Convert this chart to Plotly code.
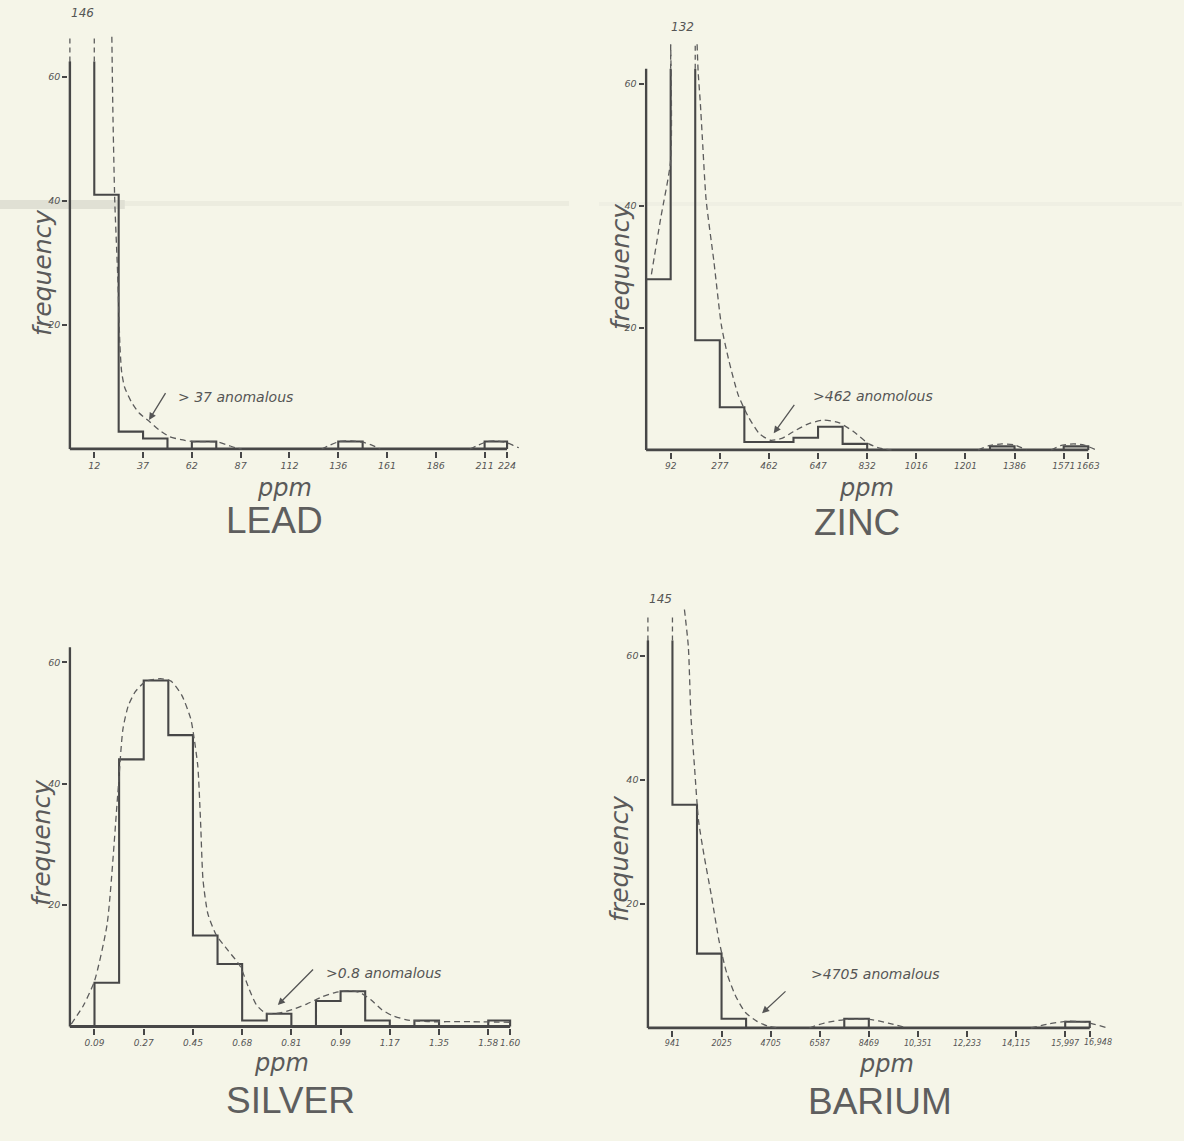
import plotly.graph_objects as go

W, H = 1184, 1141
BG = "#f5f5e8"
INK = "#474747"
PEN = "#5c5c5c"
HAND = "DejaVu Sans"
PRINT = "Liberation Sans"

# ---------------- data ----------------
lead_edges = [0, 12.5, 25, 37.5, 50, 62.5, 75, 87.5, 100, 112.5, 125, 137.5, 150,
              162.5, 175, 187.5, 200, 212.5, 224]
lead_freq = [146, 41, 2.8, 1.7, 0, 1.2, 0, 0, 0, 0, 0, 1.2, 0, 0, 0, 0, 0, 1.2]
lead_tickvals = [12.5, 37.5, 62.5, 87.5, 112.5, 137.5, 162.5, 187.5, 212.5, 224]
lead_ticktext = ["12", "37", "62", "87", "112", "136", "161", "186", "211", "224"]
lead_curve_x = [21.5, 22, 23, 24.5, 25.6, 26.5, 28, 31.5, 35.5, 40.5, 46, 51, 57, 63, 70,
                76, 81, 85, 88, None,
                129, 133, 138, 144, 150, 155, 159, None,
                205, 209, 214, 219, 224, 227, 230]
lead_curve_y = [66.5, 55, 40, 28, 17, 12.5, 10, 7.6, 5.8, 4.5, 3, 2, 1.5, 1.2, 1.2,
                1.1, 0.6, 0.2, 0, None,
                0, 0.6, 1.2, 1.3, 1.1, 0.6, 0, None,
                0, 0.6, 1.2, 1.3, 1.0, 0.6, 0.2]

zinc_edges = [0, 92.5, 185, 277.5, 370, 462.5, 555, 647.5, 740, 832.5, 925, 1017.5,
              1110, 1202.5, 1295, 1387.5, 1480, 1572.5, 1665]
zinc_freq = [28, 132, 18, 7, 1.3, 1.3, 2, 3.8, 1, 0, 0, 0, 0, 0, 0.6, 0, 0, 0.6]
zinc_tickvals = [92.5, 277.5, 462.5, 647.5, 832.5, 1017.5, 1202.5, 1387.5, 1572.5, 1665]
zinc_ticktext = ["92", "277", "462", "647", "832", "1016", "1201", "1386", "1571", "1663"]
zinc_curve_x = [20, 55, 92.5, 92.5, None,
                192, 196, 204, 212, 226, 255, 284, 312, 347, 383, 426, 468, 511, 554,
                611, 668, 725, 782, 839, 880, 924, None,
                1250, 1290, 1340, 1390, 1432, None,
                1525, 1560, 1610, 1650, 1690]
zinc_curve_y = [28.8, 38, 47.5, 66.5, None,
                66.5, 62, 57, 51, 41, 31, 20.3, 14.6, 9, 5.6, 2.7, 1.6, 1.9, 3,
                4.3, 4.9, 4.5, 3, 1, 0.3, 0, None,
                0, 0.7, 1.0, 0.8, 0, None,
                0, 0.7, 1.0, 0.8, 0.1]

silver_edges = [0, 0.09, 0.18, 0.27, 0.36, 0.45, 0.54, 0.63, 0.72, 0.81, 0.90, 0.99,
                1.08, 1.17, 1.26, 1.35, 1.44, 1.53, 1.61]
silver_freq = [0, 7.2, 44, 57, 48, 15, 10.3, 1, 2.1, 0, 4.2, 5.8, 1, 0, 1, 0, 0, 1]
silver_tickvals = [0.09, 0.27, 0.45, 0.63, 0.81, 0.99, 1.17, 1.35, 1.53, 1.61]
silver_ticktext = ["0.09", "0.27", "0.45", "0.68", "0.81", "0.99", "1.17", "1.35", "1.58", "1.60"]
silver_curve_x = [0.005, 0.05, 0.09, 0.136, 0.175, 0.194, 0.214, 0.240, 0.279, 0.331,
                  0.370, 0.409, 0.442, 0.455, 0.468, 0.478, 0.487, 0.505, 0.535, 0.579,
                  0.622, 0.657, 0.683, 0.716, 0.762, 0.814, 0.866, 0.918, 0.970, 1.029,
                  1.061, 1.101, 1.140, 1.179, 1.231, 1.309, 1.440, 1.609]
silver_curve_y = [0.4, 3.5, 7.5, 16.8, 38.2, 49, 52.9, 55.2, 56.9, 57.3,
                  56.9, 54.6, 50.7, 47.3, 42.8, 33.7, 24.1, 18.5, 15.1, 12.5,
                  10, 6, 3.5, 2.2, 2.2, 2.8, 3.7, 4.8, 5.6, 5.9,
                  5.6, 4.4, 2.8, 1.8, 1.1, 0.8, 0.8, 0.7]

barium_edges = [0, 941, 1882, 2823, 3764, 4705, 5646, 6587, 7528, 8469, 9410, 10351,
                11292, 12233, 13174, 14115, 15056, 15997, 16938]
barium_freq = [145, 36, 12, 1.5, 0, 0, 0, 0, 1.5, 0, 0, 0, 0, 0, 0, 0, 0, 1]
barium_tickvals = [941, 2823, 4705, 6587, 8469, 10351, 12233, 14115, 15997, 16938]
barium_ticktext = ["941", "2025", "4705", "6587", "8469", "10,351", "12,233", "14,115",
                   "15,997", "16,948"]
barium_curve_x = [1400, 1550, 1650, 1790, 1940, 2150, 2440, 2730, 3020, 3380, 3740, 4170,
                  4600, 5030, None,
                  6190, 6760, 7630, 8490, 9210, 9930, None,
                  14680, 15400, 16120, 16840, 17550]
barium_curve_y = [67.5, 61.5, 50.3, 41.9, 33.5, 27.9, 21.2, 14, 8.9, 5, 2.5, 1.1,
                  0.3, 0, None,
                  0, 0.8, 1.4, 1.4, 0.8, 0, None,
                  0, 0.7, 1.1, 0.9, 0.1]

freq_tickvals = [20, 40, 60]
freq_ticktext = ["20", "40", "60"]

panels = [
    dict(title="LEAD", edges=lead_edges, freq=lead_freq, tv=lead_tickvals, tt=lead_ticktext,
         cx=lead_curve_x, cy=lead_curve_y, note="> 37 anomalous"),
    dict(title="ZINC", edges=zinc_edges, freq=zinc_freq, tv=zinc_tickvals, tt=zinc_ticktext,
         cx=zinc_curve_x, cy=zinc_curve_y, note=">462 anomolous"),
    dict(title="SILVER", edges=silver_edges, freq=silver_freq, tv=silver_tickvals,
         tt=silver_ticktext, cx=silver_curve_x, cy=silver_curve_y, note=">0.8 anomalous"),
    dict(title="BARIUM", edges=barium_edges, freq=barium_freq, tv=barium_tickvals,
         tt=barium_ticktext, cx=barium_curve_x, cy=barium_curve_y, note=">4705 anomalous"),
]

# ---------------- geometry (pixels) ----------------
geom = [
    dict(x0=70, sx=1.955, xr=(-0.8, 232), y0=449, sy=6.2, yr=(-0.25, 72),
         title=(275, 520), ppm=(285, 488), fq=(42, 272), note=(176, 397),
         tail=(166.7, 391.7), head=(149.3, 420), big_y=70.3, tfs=9.5, last_shift=0),
    dict(x0=647.2, sx=0.266, xr=(-6, 1700), y0=450, sy=6.1, yr=(-0.25, 72),
         title=(858, 522), ppm=(868, 488), fq=(621, 266), note=(812, 396),
         tail=(796.7, 403.3), head=(775, 433.3), big_y=69.3, tfs=9, last_shift=0),
    dict(x0=70, sx=273.9, xr=(-0.006, 1.645), y0=1026.5, sy=6.07, yr=(-0.25, 66),
         title=(291, 1100), ppm=(282, 1063), fq=(41, 842), note=(325, 973),
         tail=(315, 968), head=(278.3, 1005), big_y=69, tfs=9, last_shift=0),
    dict(x0=649, sx=0.02613, xr=(-60, 17650), y0=1028, sy=6.2, yr=(-0.25, 72),
         title=(881, 1101), ppm=(888, 1064), fq=(620, 858), note=(810, 974),
         tail=(788.3, 990), head=(763.3, 1013.3), big_y=69.2, tfs=8, last_shift=8),
]
CAP = 62.5       # top of the drawn frequency axis
DASH_TOP = 66.5  # off-scale bars continue dashed up to here


def px(x, y):
    return x / W, 1 - y / H


fig = go.Figure()
annotations = []
layout_axes = {}

for i, (p, g) in enumerate(zip(panels, geom), start=1):
    xa = "x" if i == 1 else f"x{i}"
    ya = "y" if i == 1 else f"y{i}"
    xkey = "xaxis" if i == 1 else f"xaxis{i}"
    ykey = "yaxis" if i == 1 else f"yaxis{i}"

    xl = g["x0"] + g["xr"][0] * g["sx"]
    xrgt = g["x0"] + g["xr"][1] * g["sx"]
    ybot = g["y0"] - g["yr"][0] * g["sy"]
    ytop = g["y0"] - g["yr"][1] * g["sy"]

    tick_font = dict(family=HAND, size=g["tfs"], color="#555555", style="italic")
    ticktext = list(p["tt"])
    if g["last_shift"]:
        # last label is nudged right (as drawn) so it does not collide with its neighbour
        annotations.append(dict(x=p["tv"][-1], y=1 - (g["y0"] + 14.5) / H, xref=xa,
                                yref="paper", xshift=g["last_shift"],
                                xanchor="center", yanchor="middle",
                                text=ticktext[-1], showarrow=False, font=tick_font))
        ticktext[-1] = ""

    layout_axes[xkey] = dict(
        domain=[xl / W, xrgt / W], range=list(g["xr"]), anchor=ya,
        tickmode="array", tickvals=p["tv"], ticktext=ticktext, tickangle=0,
        ticks="outside", ticklen=6, tickwidth=1.5, tickcolor=INK,
        showgrid=False, zeroline=False, showline=False, tickfont=tick_font,
        fixedrange=True)
    layout_axes[ykey] = dict(
        domain=[1 - ybot / H, 1 - ytop / H], range=list(g["yr"]), anchor=xa,
        tickmode="array", tickvals=freq_tickvals, ticktext=freq_ticktext, tickangle=0,
        ticks="outside", ticklen=5, tickwidth=1.5, tickcolor=INK,
        showgrid=False, zeroline=False, showline=False,
        tickfont=dict(family=HAND, size=9.5, color="#555555", style="italic"),
        fixedrange=True)

    edges, freq = p["edges"], p["freq"]

    # axis spine and baseline
    fig.add_trace(go.Scatter(x=[edges[0], edges[0]], y=[0, CAP], mode="lines",
                             line=dict(color=INK, width=2.4), xaxis=xa, yaxis=ya,
                             hoverinfo="skip", showlegend=False))
    fig.add_trace(go.Scatter(x=[edges[0], p["tv"][-1]], y=[0, 0], mode="lines",
                             line=dict(color=INK, width=2.8), xaxis=xa, yaxis=ya,
                             hoverinfo="skip", showlegend=False))

    # step outline of the histogram (off-scale bars left open at the top)
    sx_, sy_ = [edges[0]], [0]
    for k, h in enumerate(freq):
        if h > CAP:
            sx_ += [edges[k], None, edges[k + 1]]
            sy_ += [CAP, None, CAP]
        else:
            sx_ += [edges[k], edges[k + 1]]
            sy_ += [h, h]
    sx_.append(edges[-1])
    sy_.append(0)
    fig.add_trace(go.Scatter(x=sx_, y=sy_, mode="lines", connectgaps=False,
                             line=dict(color=INK, width=2.1), xaxis=xa, yaxis=ya,
                             hoverinfo="skip", showlegend=False))

    # off-scale bars: dashed continuation + value label
    ox, oy = [], []
    for k, h in enumerate(freq):
        if h > CAP:
            for e in (edges[k], edges[k + 1]):
                ox += [e, e, None]
                oy += [CAP, DASH_TOP, None]
            annotations.append(dict(
                x=(edges[k] + edges[k + 1]) / 2, y=g["big_y"], xref=xa, yref=ya,
                xanchor="center", yanchor="middle",
                text=str(h), showarrow=False,
                font=dict(family=HAND, size=12, color="#555555", style="italic")))
    if ox:
        fig.add_trace(go.Scatter(x=ox, y=oy, mode="lines", connectgaps=False,
                                 line=dict(color=PEN, width=1.3, dash="5px,4px"),
                                 xaxis=xa, yaxis=ya, hoverinfo="skip", showlegend=False))

    # hand-drawn fitted curve
    fig.add_trace(go.Scatter(x=p["cx"], y=p["cy"], mode="lines",
                             line=dict(color=PEN, width=1.3, dash="6px,4px", shape="spline",
                                       smoothing=0.6),
                             connectgaps=False, xaxis=xa, yaxis=ya,
                             hoverinfo="skip", showlegend=False))

    # text
    tx, ty = px(*g["title"])
    annotations.append(dict(x=tx, y=ty, xref="paper", yref="paper", text=p["title"],
                            showarrow=False, xanchor="center", yanchor="middle",
                            font=dict(family=PRINT, size=37, color="#5e5e5e")))
    tx, ty = px(*g["ppm"])
    annotations.append(dict(x=tx, y=ty, xref="paper", yref="paper", text="ppm",
                            showarrow=False, xanchor="center", yanchor="middle",
                            font=dict(family=HAND, size=24, color="#5a5a5a", style="italic")))
    tx, ty = px(*g["fq"])
    annotations.append(dict(x=tx, y=ty, xref="paper", yref="paper", text="frequency",
                            showarrow=False, textangle=-90,
                            xanchor="center", yanchor="middle",
                            font=dict(family=HAND, size=25, color="#5a5a5a", style="italic")))
    tx, ty = px(*g["note"])
    annotations.append(dict(x=tx, y=ty, xref="paper", yref="paper", text=p["note"],
                            showarrow=False, xanchor="left", yanchor="middle",
                            font=dict(family=HAND, size=14, color="#555555", style="italic")))
    hx, hy = px(*g["head"])
    annotations.append(dict(x=hx, y=hy, xref="paper", yref="paper", text="",
                            showarrow=True, arrowhead=2, arrowsize=1.1, arrowwidth=1.3,
                            arrowcolor="#555555",
                            ax=g["tail"][0] - g["head"][0], ay=g["tail"][1] - g["head"][1]))

# faint scanner smear across the upper half
shapes = [
    dict(type="rect", xref="paper", yref="paper", x0=0, x1=125 / W,
         y0=1 - 209 / H, y1=1 - 200 / H, fillcolor="rgba(120,120,110,0.16)",
         line=dict(width=0), layer="below"),
    dict(type="rect", xref="paper", yref="paper", x0=125 / W, x1=570 / W,
         y0=1 - 206 / H, y1=1 - 201 / H, fillcolor="rgba(130,130,120,0.07)",
         line=dict(width=0), layer="below"),
    dict(type="rect", xref="paper", yref="paper", x0=600 / W, x1=1184 / W,
         y0=1 - 206 / H, y1=1 - 202 / H, fillcolor="rgba(140,140,130,0.05)",
         line=dict(width=0), layer="below"),
]

fig.update_layout(
    width=W, height=H, margin=dict(l=0, r=0, t=0, b=0),
    paper_bgcolor=BG, plot_bgcolor="rgba(0,0,0,0)",
    showlegend=False, annotations=annotations, shapes=shapes,
    **layout_axes)

fig.write_html("out.html", config={"displayModeBar": False},
               post_script="document.body.style.margin='0';"
                           "document.body.style.background='" + BG + "';")
